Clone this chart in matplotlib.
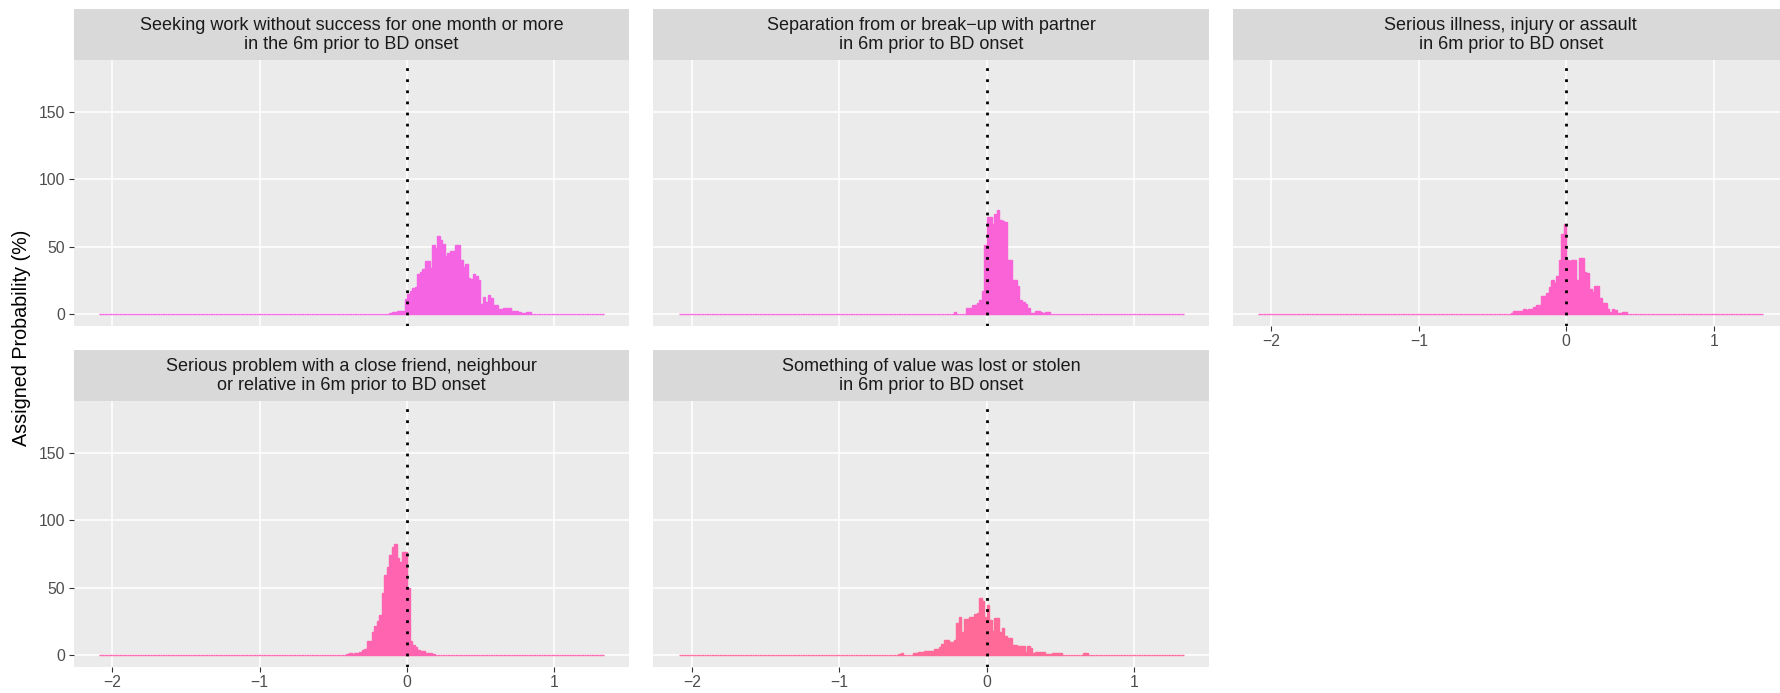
import numpy as np
import matplotlib
matplotlib.use("Agg")
import matplotlib.pyplot as plt

plt.rcParams['font.family'] = ['Liberation Sans', 'DejaVu Sans']

# ---------------- data ----------------
panel_titles = [
    "Seeking work without success for one month or more\nin the 6m prior to BD onset",
    "Separation from or break\u2212up with partner\nin 6m prior to BD onset",
    "Serious illness, injury or assault\nin 6m prior to BD onset",
    "Serious problem with a close friend, neighbour\nor relative in 6m prior to BD onset",
    "Something of value was lost or stolen\nin 6m prior to BD onset",
]
panel_colors = ['#F564E3', '#FA62D8', '#FF61C6', '#FF64B0', '#FF6A98']

bin_width = 0.01713
first_bin = -122          # bin index of the leftmost bin (left edge = index * bin_width)
n_bins = 200

x_ticks = [-2, -1, 0, 1]
y_ticks = [0, 50, 100, 150]
y_label = "Assigned Probability (%)"

# first non-zero bin index and counts (%) for each panel
p1_start = -7
p1_vals = [1, 1.5, 1.5, 2, 2, 2, 11,
           15, 17, 19, 20, 30, 31, 33, 39, 39, 34, 51, 49, 58, 55, 52,
           43, 45, 47, 47, 51, 51, 40, 35, 37, 27, 26, 30, 28, 25,
           7.4, 12.4, 8.7, 14.4, 12, 6.7, 6.7, 3.5, 3.5, 4.5, 4.5, 4.5, 2, 2.5, 2.5,
           1.5, 1, 0.7, 1.7, 1.7]

p2_start = -13
p2_vals = [1.7, 0, 0, 0, 0, 4.5, 4.5, 6.7, 6.7, 8, 10, 17, 51,
           72, 72, 67, 74, 77, 70, 69, 68, 40, 40, 25, 25, 20.5, 10.4, 8.7, 7.4, 4.5,
           0.5, 0.5, 2.5, 2.5, 1.2, 0.5, 1.5, 1.5]

p3_start = -22
p3_vals = [0.5, 2, 2.5, 2.5, 2.5, 3.5, 3, 3.5, 3.5, 5, 6.7, 6.7, 13.6, 13.6, 15.6, 20, 25, 23,
           28.5, 40, 59, 66.8,
           40, 39.6, 40, 40.3, 25, 41.6, 41.6, 31, 30.7, 18.6, 16, 20.5, 20.5, 12, 8.2, 8.2,
           3.5, 1.5, 3.5, 3, 0.5, 0.5, 1.7, 1.5]

p4_start = -24
p4_vals = [0.5, 1.5, 1, 1.5, 1.5, 2, 3.5, 4.2, 10.6, 10.6, 17.3, 21.5, 25, 29.5, 46, 59.4,
           65.6, 74.5, 80, 82.4, 71.8, 69.3, 76.7, 76.7,
           49.5, 10.6, 7.7, 5.7, 4, 3.2, 2.7, 1.7, 1.7, 1.7, 0.5]

p5_start = -35
p5_vals = [1, 1.7, 0, 0, 0, 0, 1.7, 1.7, 2.5, 2.5, 3.2, 3.2, 2.7, 3, 4.5, 4.5, 5.7, 8.2,
           11.4, 11.4, 9.4, 9.4, 11.4, 23.5, 28.5, 17, 26.5, 27, 28.5, 28.5, 30.4, 31.4,
           42.3, 40, 28.5,
           37.4, 26, 18, 27.7, 27.7, 17, 20.3, 14.4, 12.6, 12.6, 7.4, 7.4, 6.4, 6.4, 6.4,
           2.5, 6.4, 5, 1.2, 2.2, 2.2, 2.2, 2.2, 0.7, 0.7, 0.7, 1.5, 1.5, 1.5, 1.5,
           0, 0, 0, 0, 0, 0, 0, 0, 1.5, 1.5]

panel_starts = [p1_start, p2_start, p3_start, p4_start, p5_start]
panel_values = [p1_vals, p2_vals, p3_vals, p4_vals, p5_vals]

# ---------------- layout ----------------
W, H = 1780, 693
fig = plt.figure(figsize=(W / 100, H / 100), dpi=100)

def rect(left, top, width, height):
    return [left / W, 1 - (top + height) / H, width / W, height / H]

col_left = [73.8, 653.4, 1233.0]
panel_w = 555.4
strip_top = [9.0, 350.0]
strip_h = 50.5
plot_h = 266.5

xlim = (-2.261, 1.507)
ylim = (-9.0, 189.0)

bin_idx = np.arange(first_bin, first_bin + n_bins)
left_edges = bin_idx * bin_width

positions = [(0, 0), (0, 1), (0, 2), (1, 0), (1, 1)]

for i, (r, c) in enumerate(positions):
    heights = np.zeros(n_bins)
    s = panel_starts[i] - first_bin
    vals = np.asarray(panel_values[i], dtype=float)
    heights[s:s + len(vals)] = vals

    ax = fig.add_axes(rect(col_left[c], strip_top[r] + strip_h, panel_w, plot_h))
    ax.set_facecolor('#EBEBEB')
    ax.set_xlim(*xlim)
    ax.set_ylim(*ylim)
    ax.set_xticks(x_ticks)
    ax.set_yticks(y_ticks)
    ax.grid(True, color='white', linewidth=1.1)
    ax.set_axisbelow(True)
    for sp in ax.spines.values():
        sp.set_visible(False)

    col = panel_colors[i]
    ax.bar(left_edges, heights, width=bin_width, align='edge', color=col,
           edgecolor=col, linewidth=1.0, zorder=2)
    ax.axvline(0, color='black', linestyle=(0, (1, 3)), linewidth=2.0, zorder=3)

    show_x = (r == 1) or (c == 2)
    show_y = (c == 0)
    ax.tick_params(axis='both', colors='#333333', labelcolor='#4D4D4D',
                   labelsize=11.3, length=3.6, width=0.8, pad=2.5)
    if not show_x:
        ax.tick_params(axis='x', length=0, labelbottom=False)
    if not show_y:
        ax.tick_params(axis='y', length=0, labelleft=False)

    sax = fig.add_axes(rect(col_left[c], strip_top[r], panel_w, strip_h))
    sax.set_facecolor('#D9D9D9')
    sax.set_xticks([])
    sax.set_yticks([])
    for sp in sax.spines.values():
        sp.set_visible(False)
    sax.text(0.5, 0.48, panel_titles[i], ha='center', va='center', multialignment='center',
             fontsize=13.0, color='#1A1A1A', linespacing=1.12, transform=sax.transAxes)

fig.text(22 / W, 1 - 337.5 / H, y_label, rotation=90, ha='center', va='center',
         fontsize=14.2, color='black')

fig.savefig('out.png', dpi=100)
